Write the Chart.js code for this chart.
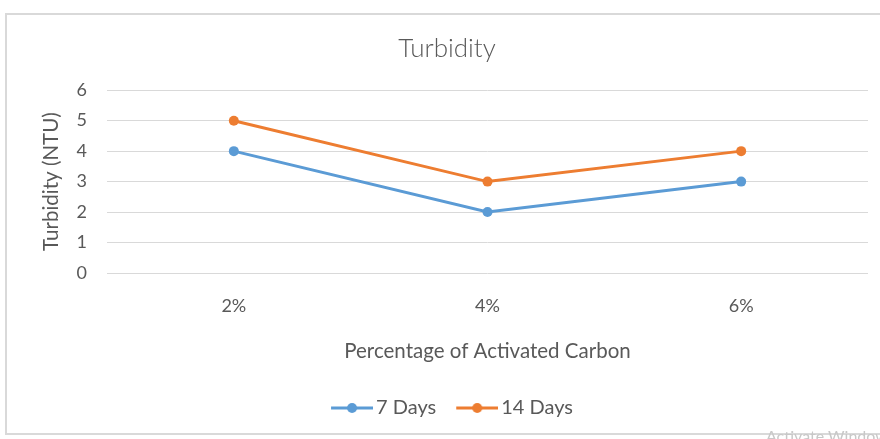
<!DOCTYPE html>
<html>
<head>
<meta charset="utf-8">
<script src="https://cdn.jsdelivr.net/npm/chart.js@4.4.0/dist/chart.umd.min.js"></script>
<style>
  html, body { margin: 0; padding: 0; background: #fff; }
  #wrap { position: relative; width: 880px; height: 439px; overflow: hidden; }
  #frame { position: absolute; left: 5px; top: 13px; width: 900px; height: 422px; border: 2px solid #d9d9d9; box-sizing: border-box; }
  #chart { position: absolute; left: 0; top: 0; }
  #wm { position: absolute; left: 766px; top: 426px; font: 16px Lato, sans-serif; color: #c8c8c8; white-space: nowrap; }
</style>
</head>
<body>
<div id="wrap">
  <div id="frame"></div>
  <canvas id="chart" width="880" height="439"></canvas>
  <div id="wm">Activate Windows</div>
</div>
<script>
const categories = ['2%', '4%', '6%'];
const days7 = [4, 2, 3];
const days14 = [5, 3, 4];
const yTicks = [0, 1, 2, 3, 4, 5, 6];

const textColor = '#595959';
const blue = '#5B9BD5';
const orange = '#ED7D31';

// legend marker: short line with a dot, like Excel; drawn at the right of a wider image
const makeMarker = (color) => {
  const c = document.createElement('canvas');
  c.width = 59;
  c.height = 12;
  const g = c.getContext('2d');
  g.strokeStyle = color;
  g.lineWidth = 3;
  g.beginPath();
  g.moveTo(17, 6);
  g.lineTo(59, 6);
  g.stroke();
  g.fillStyle = color;
  g.beginPath();
  g.arc(38, 6, 5, 0, Math.PI * 2);
  g.fill();
  return c;
};

const ctx = document.getElementById('chart').getContext('2d');
new Chart(ctx, {
  type: 'line',
  data: {
    labels: categories,
    datasets: [
      {
        label: '7 Days',
        data: days7,
        borderColor: blue,
        backgroundColor: blue,
        borderWidth: 3,
        pointRadius: 5,
        pointBorderWidth: 0,
        tension: 0
      },
      {
        label: '14 Days',
        data: days14,
        borderColor: orange,
        backgroundColor: orange,
        borderWidth: 3,
        pointRadius: 5,
        pointBorderWidth: 0,
        tension: 0
      }
    ]
  },
  options: {
    responsive: false,
    animation: false,
    layout: { padding: { left: 26, right: 12, top: 0, bottom: 11 } },
    plugins: {
      title: {
        display: true,
        text: 'Turbidity',
        color: textColor,
        font: { family: 'Lato', size: 26, weight: '300' },
        padding: { top: 33, bottom: 26 }
      },
      legend: {
        position: 'bottom',
        labels: {
          color: textColor,
          font: { family: 'Lato', size: 20 },
          usePointStyle: true,
          pointStyleWidth: 45,
          padding: 10,
          generateLabels: (chart) => chart.data.datasets.map((ds, i) => ({
            text: ds.label,
            datasetIndex: i,
            pointStyle: makeMarker(ds.borderColor),
            fillStyle: ds.borderColor,
            strokeStyle: ds.borderColor,
            lineWidth: 0,
            fontColor: textColor
          }))
        }
      },
      tooltip: { enabled: false }
    },
    scales: {
      x: {
        offset: true,
        grid: { display: false, drawTicks: false },
        border: { display: false },
        ticks: { color: textColor, font: { family: 'Lato', size: 18 }, padding: 22 },
        title: {
          display: true,
          text: 'Percentage of Activated Carbon',
          color: textColor,
          font: { family: 'Lato', size: 20.5 },
          padding: { top: 0, bottom: 24 }
        },
        afterFit: (scale) => { scale.height = 115; }
      },
      y: {
        min: 0,
        max: 6,
        afterBuildTicks: (scale) => { scale.ticks = yTicks.map(v => ({ value: v })); },
        grid: { color: '#d9d9d9', lineWidth: 1, drawTicks: false },
        border: { display: false },
        ticks: { color: textColor, font: { family: 'Lato', size: 18 }, padding: 20 },
        title: {
          display: true,
          text: 'Turbidity (NTU)',
          color: textColor,
          font: { family: 'Lato', size: 20.5 },
          padding: { top: 13, bottom: 0 }
        },
        afterFit: (scale) => { scale.width = 81; }
      }
    }
  }
});
</script>
</body>
</html>
